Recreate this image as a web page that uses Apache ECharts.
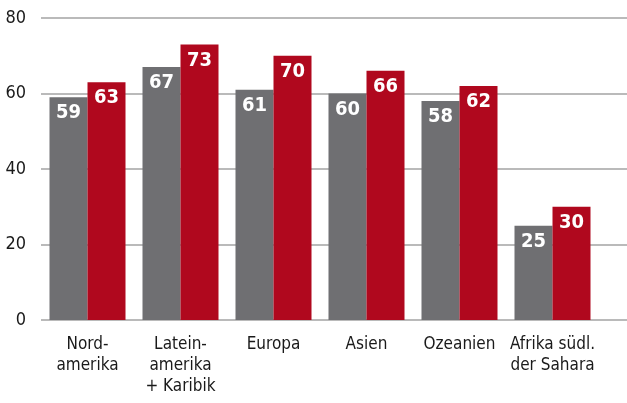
<!DOCTYPE html>
<html>
<head>
<meta charset="utf-8">
<script src="https://cdn.jsdelivr.net/npm/echarts@6/dist/echarts.min.js"></script>
<style>
  html, body { margin: 0; padding: 0; background: #fff; }
  #chart { width: 627px; height: 403px; }
</style>
</head>
<body>
<div id="chart"></div>
<script>
const categories = ['Nord-\namerika', 'Latein-\namerika\n+ Karibik', 'Europa', 'Asien', 'Ozeanien', 'Afrika südl.\nder Sahara']
const greyValues = [59, 67, 61, 60, 58, 25]
const redValues = [63, 73, 70, 66, 62, 30]
const yTicks = { min: 0, max: 80, interval: 20 }

const font = "'DejaVu Sans Condensed', 'Liberation Sans Narrow', sans-serif"

const barLabel = {
  show: true,
  position: 'insideTop',
  distance: 6,
  color: '#fff',
  fontFamily: font,
  fontWeight: 'bold',
  fontSize: 20
}

const chart = echarts.init(document.getElementById('chart'))
chart.setOption({
  animation: false,
  grid: [
    // full-width grid only for the horizontal lines and y labels
    { left: 41, right: 0, top: 18, bottom: 83 },
    // bars
    { left: 41, right: 28, top: 18, bottom: 83 }
  ],
  xAxis: [
    { gridIndex: 0, type: 'category', data: categories, show: false },
    {
      gridIndex: 1,
      type: 'category',
      data: categories,
      axisLine: { show: false },
      axisTick: { show: false },
      axisLabel: {
        margin: 14,
        color: '#1a1a1a',
        fontFamily: font,
        fontSize: 17,
        lineHeight: 21,
        interval: 0
      }
    }
  ],
  yAxis: [
    {
      gridIndex: 0,
      type: 'value',
      min: yTicks.min,
      max: yTicks.max,
      interval: yTicks.interval,
      axisLine: { show: false },
      axisTick: { show: false },
      axisLabel: { margin: 15, color: '#1a1a1a', fontFamily: font, fontSize: 18 },
      splitLine: { lineStyle: { color: '#a3a3a3', width: 1.5 } }
    },
    {
      gridIndex: 1,
      type: 'value',
      min: yTicks.min,
      max: yTicks.max,
      interval: yTicks.interval,
      show: false,
      splitLine: { show: false }
    }
  ],
  series: [
    {
      type: 'bar',
      xAxisIndex: 1,
      yAxisIndex: 1,
      data: greyValues,
      barWidth: 38,
      barGap: '0%',
      itemStyle: { color: '#6f6f72' },
      label: barLabel
    },
    {
      type: 'bar',
      xAxisIndex: 1,
      yAxisIndex: 1,
      data: redValues,
      barWidth: 38,
      barGap: '0%',
      itemStyle: { color: '#b0081e' },
      label: barLabel
    }
  ]
})
</script>
</body>
</html>
